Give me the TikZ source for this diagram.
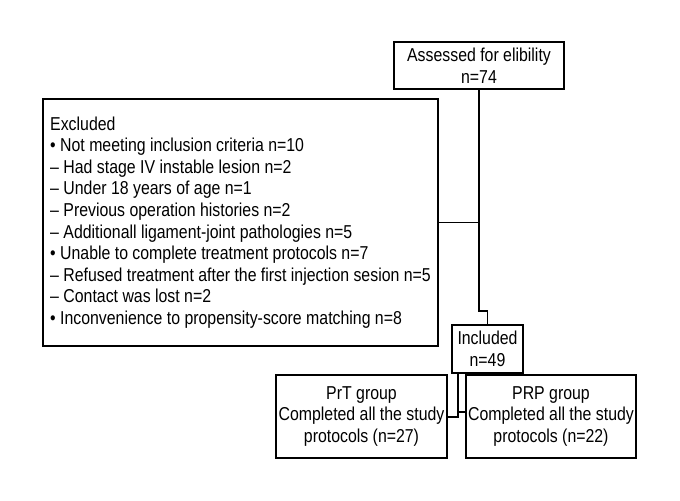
\documentclass[tikz,border=0pt]{standalone}
\usepackage{fontspec}
\setmainfont{Liberation Sans}[FakeStretch=0.85]

\tikzset{every picture/.style={line width=0.9pt}}
\tikzset{flowbox/.style={draw, inner sep=0.75pt, align=center, font=\fontsize{14}{16.2}\selectfont}}

\begin{document}
\begin{tikzpicture}[x=0.75pt,y=0.75pt,yscale=-1,xscale=1]
\useasboundingbox (0,0) rectangle (680,500);

% Boxes
\node (assessed) [flowbox, minimum width=127.5pt, minimum height=35.25pt] at (479,65.5) {Assessed for elibility\\n=74};
\node (excluded) [flowbox, align=left, minimum width=296.25pt, minimum height=185.25pt] at (240.5,222.5) {Excluded\\
• Not meeting inclusion criteria n=10\\
– Had stage IV instable lesion n=2\\
– Under 18 years of age n=1\\
– Previous operation histories n=2\\
– Additionall ligament-joint pathologies n=5\\
• Unable to complete treatment protocols n=7\\
– Refused treatment after the first injection sesion n=5\\
– Contact was lost n=2\\
• Inconvenience to propensity-score matching n=8};
\node (included) [flowbox, minimum width=53.25pt, minimum height=36pt] at (487.5,349) {Included\\n=49};
\node (prt) [flowbox, minimum width=128.25pt, minimum height=62.25pt] at (361.5,416.5) {PrT group\\Completed all the study\\protocols (n=27)};
\node (prp) [flowbox, minimum width=127.5pt, minimum height=62.25pt] at (551,416.5) {PRP group\\Completed all the study\\protocols (n=22)};

% Bend points
\coordinate (bend) at (479,311);
\coordinate (fork) at (458,417);
\coordinate (stub) at (458,412);

% Connectors
\draw (assessed.south) -- (bend) -| (included.north);
\draw (excluded.east) -- (excluded.east -| assessed.south);
\draw (included.south -| fork) |- (prt.east |- fork);
\draw (stub) -- (prp.west |- stub);

\end{tikzpicture}
\end{document}
